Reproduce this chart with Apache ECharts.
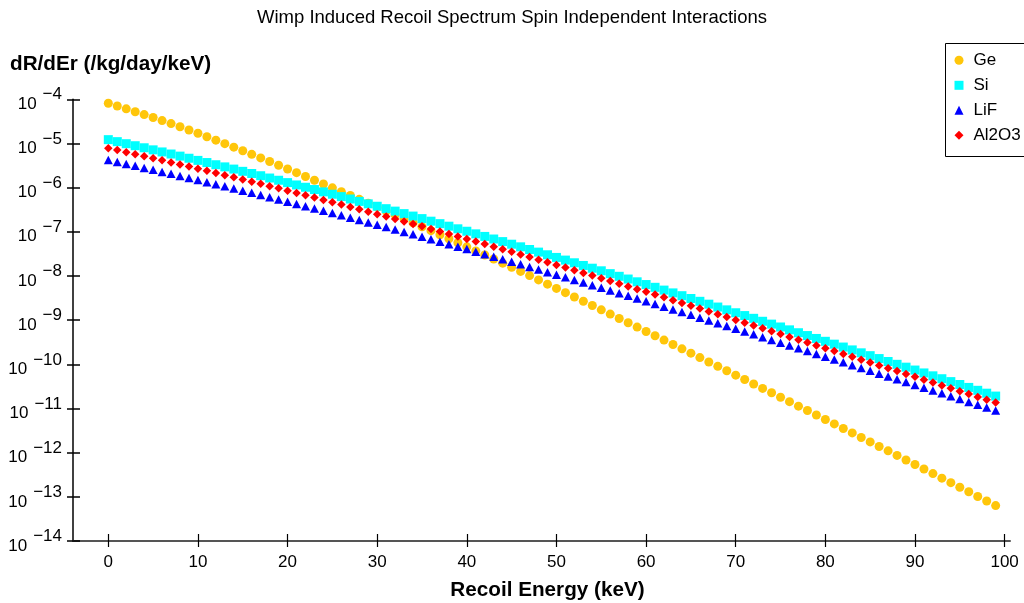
<!DOCTYPE html>
<html>
<head>
<meta charset="utf-8">
<script src="https://cdn.jsdelivr.net/npm/echarts@6/dist/echarts.min.js"></script>
<style>
html,body{margin:0;padding:0;background:#fff;}
#chart{width:1024px;height:603px;}
</style>
</head>
<body>
<div id="chart"></div>
<script>
const energies = [0,1,2,3,4,5,6,7,8,9,10,11,12,13,14,15,16,17,18,19,20,21,22,23,24,25,26,27,28,29,30,31,32,33,34,35,36,37,38,39,40,41,42,43,44,45,46,47,48,49,50,51,52,53,54,55,56,57,58,59,60,61,62,63,64,65,66,67,68,69,70,71,72,73,74,75,76,77,78,79,80,81,82,83,84,85,86,87,88,89,90,91,92,93,94,95,96,97,98,99];

const ge = [8.12e-5,7.04e-5,6.08e-5,5.24e-5,4.51e-5,3.87e-5,3.30e-5,2.82e-5,2.39e-5,2.02e-5,
1.70e-5,1.42e-5,1.19e-5,9.90e-6,8.25e-6,6.86e-6,5.68e-6,4.71e-6,3.90e-6,3.21e-6,
2.65e-6,2.18e-6,1.79e-6,1.47e-6,1.21e-6,9.90e-7,8.10e-7,6.64e-7,5.43e-7,4.44e-7,
3.62e-7,2.95e-7,2.41e-7,1.96e-7,1.60e-7,1.30e-7,1.06e-7,8.58e-8,6.96e-8,5.64e-8,
4.57e-8,3.70e-8,2.99e-8,2.42e-8,1.95e-8,1.58e-8,1.27e-8,1.02e-8,8.15e-9,6.53e-9,
5.23e-9,4.19e-9,3.35e-9,2.68e-9,2.14e-9,1.71e-9,1.37e-9,1.09e-9,8.72e-10,6.96e-10,
5.55e-10,4.43e-10,3.53e-10,2.81e-10,2.24e-10,1.79e-10,1.42e-10,1.13e-10,9.00e-11,7.16e-11,
5.69e-11,4.52e-11,3.59e-11,2.85e-11,2.27e-11,1.80e-11,1.43e-11,1.13e-11,8.98e-12,7.11e-12,
5.64e-12,4.47e-12,3.53e-12,2.80e-12,2.21e-12,1.75e-12,1.38e-12,1.10e-12,8.65e-13,6.83e-13,
5.40e-13,4.26e-13,3.36e-13,2.65e-13,2.09e-13,1.65e-13,1.30e-13,1.02e-13,8.06e-14,6.34e-14];

const si = [1.22e-5,1.10e-5,9.88e-6,8.89e-6,7.99e-6,7.17e-6,6.43e-6,5.77e-6,5.17e-6,4.63e-6,
4.14e-6,3.70e-6,3.30e-6,2.95e-6,2.63e-6,2.34e-6,2.09e-6,1.86e-6,1.65e-6,1.47e-6,
1.30e-6,1.15e-6,1.02e-6,9.06e-7,8.02e-7,7.09e-7,6.27e-7,5.53e-7,4.88e-7,4.30e-7,
3.79e-7,3.34e-7,2.94e-7,2.58e-7,2.27e-7,1.99e-7,1.74e-7,1.53e-7,1.34e-7,1.17e-7,
1.03e-7,8.99e-8,7.86e-8,6.87e-8,6.00e-8,5.24e-8,4.57e-8,3.98e-8,3.47e-8,3.02e-8,
2.63e-8,2.29e-8,1.99e-8,1.73e-8,1.50e-8,1.31e-8,1.13e-8,9.83e-9,8.53e-9,7.38e-9,
6.40e-9,5.54e-9,4.79e-9,4.14e-9,3.58e-9,3.09e-9,2.67e-9,2.30e-9,1.98e-9,1.71e-9,
1.47e-9,1.27e-9,1.10e-9,9.43e-10,8.13e-10,7.00e-10,6.03e-10,5.19e-10,4.48e-10,3.85e-10,
3.32e-10,2.86e-10,2.46e-10,2.12e-10,1.82e-10,1.57e-10,1.35e-10,1.16e-10,1.00e-10,8.62e-11,
7.42e-11,6.38e-11,5.49e-11,4.72e-11,4.06e-11,3.49e-11,3.00e-11,2.58e-11,2.22e-11,1.91e-11];

const lif = [4.23e-6,3.83e-6,3.45e-6,3.11e-6,2.80e-6,2.53e-6,2.27e-6,2.05e-6,1.84e-6,1.65e-6,
1.48e-6,1.33e-6,1.19e-6,1.07e-6,9.54e-7,8.51e-7,7.63e-7,6.81e-7,6.06e-7,5.41e-7,
4.80e-7,4.26e-7,3.79e-7,3.38e-7,3.00e-7,2.66e-7,2.36e-7,2.09e-7,1.85e-7,1.63e-7,
1.44e-7,1.28e-7,1.13e-7,9.93e-8,8.76e-8,7.71e-8,6.76e-8,5.97e-8,5.24e-8,4.59e-8,
4.06e-8,3.55e-8,3.12e-8,2.73e-8,2.39e-8,2.10e-8,1.84e-8,1.60e-8,1.40e-8,1.22e-8,
1.07e-8,9.34e-9,8.15e-9,7.10e-9,6.18e-9,5.41e-9,4.68e-9,4.09e-9,3.56e-9,3.09e-9,
2.69e-9,2.33e-9,2.02e-9,1.75e-9,1.52e-9,1.32e-9,1.14e-9,9.87e-10,8.52e-10,7.38e-10,
6.37e-10,5.52e-10,4.79e-10,4.12e-10,3.57e-10,3.08e-10,2.66e-10,2.30e-10,1.99e-10,1.71e-10,
1.48e-10,1.28e-10,1.11e-10,9.56e-11,8.23e-11,7.12e-11,6.15e-11,5.30e-11,4.58e-11,3.96e-11,
3.42e-11,2.95e-11,2.55e-11,2.20e-11,1.89e-11,1.63e-11,1.41e-11,1.22e-11,1.05e-11,9.05e-12];

const al2o3 = [7.83e-6,7.07e-6,6.35e-6,5.73e-6,5.15e-6,4.62e-6,4.15e-6,3.73e-6,3.35e-6,3.00e-6,
2.69e-6,2.40e-6,2.15e-6,1.92e-6,1.71e-6,1.53e-6,1.36e-6,1.22e-6,1.08e-6,9.63e-7,
8.52e-7,7.54e-7,6.70e-7,5.96e-7,5.28e-7,4.67e-7,4.14e-7,3.65e-7,3.23e-7,2.85e-7,
2.51e-7,2.21e-7,1.95e-7,1.71e-7,1.51e-7,1.33e-7,1.16e-7,1.02e-7,8.95e-8,7.82e-8,
6.89e-8,6.02e-8,5.27e-8,4.61e-8,4.03e-8,3.52e-8,3.08e-8,2.68e-8,2.34e-8,2.04e-8,
1.78e-8,1.55e-8,1.35e-8,1.17e-8,1.02e-8,8.90e-9,7.68e-9,6.69e-9,5.81e-9,5.03e-9,
4.37e-9,3.79e-9,3.28e-9,2.84e-9,2.45e-9,2.12e-9,1.83e-9,1.58e-9,1.36e-9,1.18e-9,
1.01e-9,8.77e-10,7.60e-10,6.53e-10,5.63e-10,4.85e-10,4.18e-10,3.61e-10,3.12e-10,2.68e-10,
2.31e-10,1.99e-10,1.72e-10,1.48e-10,1.27e-10,1.10e-10,9.46e-11,8.14e-11,7.03e-11,6.06e-11,
5.22e-11,4.50e-11,3.87e-11,3.33e-11,2.87e-11,2.47e-11,2.12e-11,1.83e-11,1.58e-11,1.36e-11];

const seriesNames = ['Ge', 'Si', 'LiF', 'Al2O3'];
const xTickValues = [0,10,20,30,40,50,60,70,80,90,100];
const yTickValues = [1e-14,1e-13,1e-12,1e-11,1e-10,1e-9,1e-8,1e-7,1e-6,1e-5,1e-4];
const yTickExponents = ['−14','−13','−12','−11','−10','−9','−8','−7','−6','−5','−4'];

const FONT = '"Liberation Sans", Arial, Helvetica, sans-serif';

function pairs(values) {
  return energies.map((e, i) => [e, values[i]]);
}

function yLabel(value) {
  let best = 0, bestDiff = Infinity;
  yTickValues.forEach((v, i) => {
    const d = Math.abs(Math.log10(v) - Math.log10(value));
    if (d < bestDiff) { bestDiff = d; best = i; }
  });
  return '{b|10}{s|' + yTickExponents[best] + '}';
}

const X_MIN = -3.94, X_MAX = 100.6;
const Y_MIN = 1e-14, Y_MAX = 1e-4;
const GRID = {left: 73, right: 14, top: 99.3, bottom: 62, containLabel: false, outerBoundsMode: 'none'};

const chart = echarts.init(document.getElementById('chart'), null, {renderer: 'canvas'});

chart.setOption({
  animation: false,
  backgroundColor: '#ffffff',
  textStyle: {fontFamily: FONT},
  title: [
    {
      text: 'Wimp Induced Recoil Spectrum Spin Independent Interactions',
      left: 'center', top: 8, padding: 0,
      textStyle: {fontFamily: FONT, fontSize: 18.5, fontWeight: 'normal', color: '#000'}
    },
    {
      text: 'dR/dEr (/kg/day/keV)',
      left: 10, top: 54, padding: 0,
      textStyle: {fontFamily: FONT, fontSize: 20.7, fontWeight: 'bold', color: '#000'}
    }
  ],
  graphic: [
    {
      type: 'rect', z: 0,
      shape: {x: 945.5, y: 43.5, width: 120, height: 113},
      style: {fill: '#fff', stroke: '#000', lineWidth: 1}
    }
  ],
  legend: {
    orient: 'vertical',
    left: 945.5, top: 43.3,
    padding: [8, 10, 13, 9],
    z: 10,
    itemWidth: 9, itemHeight: 9,
    itemGap: 7,
    selectedMode: false,
    textStyle: {fontFamily: FONT, fontSize: 17, color: '#000', lineHeight: 18, padding: [0, 0, 0, 5]},
    data: [
      {name: 'Ge', icon: 'circle'},
      {name: 'Si', icon: 'rect'},
      {name: 'LiF', icon: 'triangle'},
      {name: 'Al2O3', icon: 'diamond'}
    ]
  },
  grid: [Object.assign({}, GRID), Object.assign({}, GRID)],
  xAxis: [
    {
      gridIndex: 0, type: 'value', min: X_MIN, max: X_MAX, position: 'bottom',
      axisLine: {show: true, onZero: false, lineStyle: {color: '#555', width: 2}},
      axisTick: {show: true, length: 6, lineStyle: {color: '#000', width: 1.2}, customValues: xTickValues},
      axisLabel: {customValues: xTickValues, fontFamily: FONT, fontSize: 17, color: '#000', margin: 13},
      splitLine: {show: false},
      name: 'Recoil Energy (keV)', nameLocation: 'middle', nameGap: 39,
      nameTextStyle: {fontFamily: FONT, fontSize: 20.7, fontWeight: 'bold', color: '#000', padding: [0, 0, 0, 12]}
    },
    {
      gridIndex: 1, type: 'value', min: X_MIN, max: X_MAX, position: 'bottom',
      axisLine: {show: false, onZero: false},
      axisTick: {show: true, inside: true, length: 7, lineStyle: {color: '#000', width: 1.2}, customValues: xTickValues},
      axisLabel: {show: false},
      splitLine: {show: false}
    }
  ],
  yAxis: [
    {
      gridIndex: 0, type: 'log', logBase: 10, min: Y_MIN, max: Y_MAX, position: 'left',
      axisLine: {show: true, onZero: false, lineStyle: {color: '#000', width: 1.5}},
      axisTick: {show: true, length: 6, lineStyle: {color: '#000', width: 1.5}, customValues: yTickValues},
      axisLabel: {
        customValues: yTickValues,
        formatter: yLabel,
        margin: 11,
        padding: [10, 0, 0, 0],
        rich: {
          b: {fontFamily: FONT, fontSize: 17, color: '#000', lineHeight: 36},
          s: {fontFamily: FONT, fontSize: 17, color: '#000', lineHeight: 16, verticalAlign: 'top', padding: [0, 0, 0, 6]}
        }
      },
      splitLine: {show: false}
    },
    {
      gridIndex: 1, type: 'log', logBase: 10, min: Y_MIN, max: Y_MAX, position: 'left',
      axisLine: {show: false, onZero: false},
      axisTick: {show: true, inside: true, length: 7, lineStyle: {color: '#000', width: 1.5}, customValues: yTickValues},
      axisLabel: {show: false},
      splitLine: {show: false}
    }
  ],
  series: [
    {name: seriesNames[0], type: 'scatter', xAxisIndex: 0, yAxisIndex: 0, symbol: 'circle', symbolSize: 9, itemStyle: {color: '#ffc60a', opacity: 1}, data: pairs(ge), silent: true, z: 2},
    {name: seriesNames[1], type: 'scatter', xAxisIndex: 0, yAxisIndex: 0, symbol: 'rect', symbolSize: 9, itemStyle: {color: '#00ffff', opacity: 1}, data: pairs(si), silent: true, z: 3},
    {name: seriesNames[2], type: 'scatter', xAxisIndex: 0, yAxisIndex: 0, symbol: 'triangle', symbolSize: [9, 8.5], itemStyle: {color: '#0000ff', opacity: 1}, data: pairs(lif), silent: true, z: 4},
    {name: seriesNames[3], type: 'scatter', xAxisIndex: 0, yAxisIndex: 0, symbol: 'diamond', symbolSize: 8.5, itemStyle: {color: '#ff0000', opacity: 1}, data: pairs(al2o3), silent: true, z: 5}
  ]
});
</script>
</body>
</html>
